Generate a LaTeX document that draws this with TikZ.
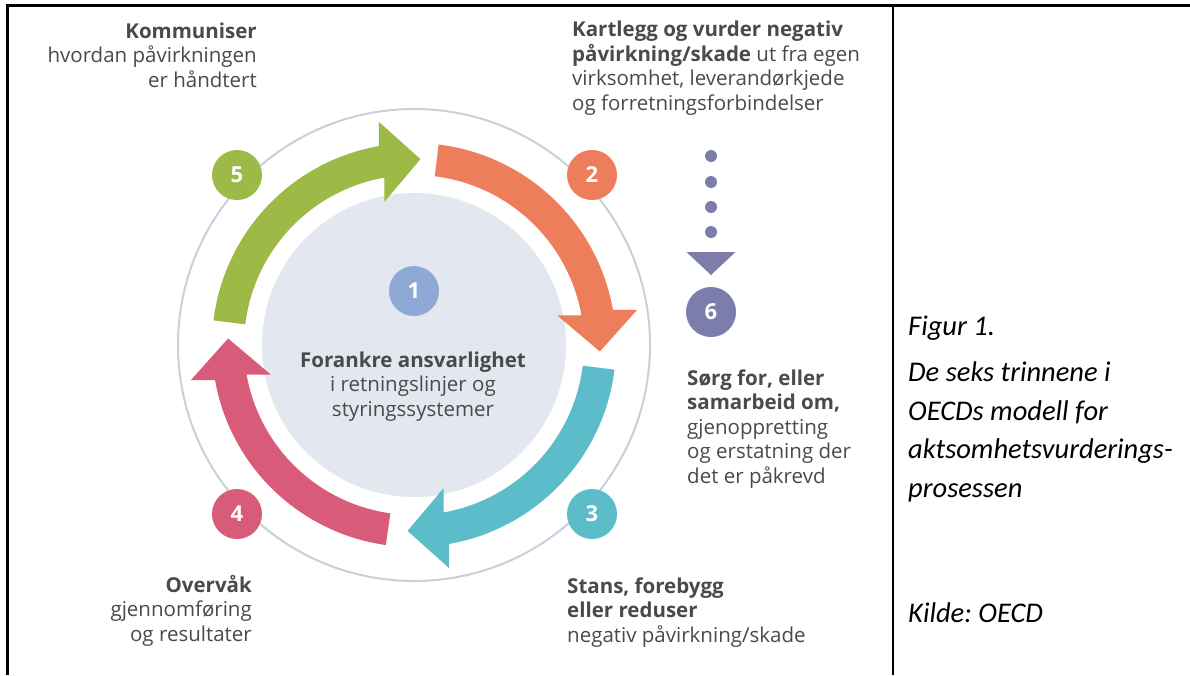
\documentclass[tikz,border=0pt]{standalone}
\usepackage{fontspec}
\setmainfont{Open Sans}
\newfontfamily\capfont{Carlito}
\usetikzlibrary{calc}
\definecolor{cgreen}{HTML}{9DB946}
\definecolor{corange}{HTML}{EE7D5B}
\definecolor{cteal}{HTML}{5CBCCA}
\definecolor{cpink}{HTML}{D95B7A}
\definecolor{cone}{HTML}{8EA9D6}
\definecolor{cpurple}{HTML}{7D7DAC}
\definecolor{cdisc}{HTML}{E3E7EF}
\definecolor{cring}{HTML}{C9CFDD}
\definecolor{textgray}{HTML}{4A4A4A}
\begin{document}
\begin{tikzpicture}[x=1pt,y=-1pt,
  txt/.style={font=\fontsize{20.5}{24.5}\selectfont, text=textgray, inner sep=0pt},
  captext/.style={font=\capfont\itshape\frenchspacing\fontsize{28.5}{38.5}\selectfont, text=black, inner sep=0pt, anchor=base west, align=left},
  num/.style={circle, minimum size=50pt, inner sep=0pt, text=white, font=\fontsize{22}{22}\selectfont\bfseries},
  border/.style={line width=2.5pt, black}]
\useasboundingbox (0,0) rectangle (1190,675);
\fill[white] (0,0) rectangle (1190,675);
% table borders
\draw[border] (1190,5.5) -- (7.5,5.5) -- (7.5,675);
\draw[border] (893,5.5) -- (893,675);
% rings
\draw[cring, line width=2pt] (414,345) circle[radius=236];
\fill[cdisc] (414,345) circle[radius=152];
% arrows
\begin{scope}[shift={(414,345)}, y=1pt]
\foreach \a/\b/\t/\c in {173/100/88/cgreen, 83/10/-2/corange, -7/-80/-92/cteal, -98/-170/-182/cpink}{
  \pgfmathsetmacro\m{(\b+\t)/2}
  \fill[\c] (\a:202) arc[start angle=\a, end angle=\b, radius=202]
    -- ($(\b:186)+(\m:40)$) -- (\t:186) -- ($(\b:186)-(\m:40)$)
    -- (\b:170) arc[start angle=\b, end angle=\a, radius=170] -- cycle;
}
\end{scope}
% number circles
\node[num, fill=cgreen] (n5) at (237,175) {5};
\node[num, fill=corange] (n2) at (592,175) {2};
\node[num, fill=cteal] (n3) at (592,514) {3};
\node[num, fill=cpink] (n4) at (237,514) {4};
\node[num, fill=cone] (n1) at (414,291) {1};
\node[num, fill=cpurple] (n6) at (711,312) {6};
% dotted arrow to 6
\foreach \y in {156,182,207,232}{\fill[cpurple] (711,\y) circle[radius=6];}
\coordinate (tri) at (711,275);
\fill[cpurple] (686.5,252) -- (735.5,252) -- (tri) -- cycle;
% texts (anchored at the baseline of the last line)
\node[txt, anchor=base east, align=right] (t5) at (257,87) {{\bfseries Kommuniser}\\hvordan påvirkningen\\er håndtert};
\node[txt, anchor=base west, align=left] (t2) at (572,110) {{\bfseries Kartlegg og vurder negativ}\\{\bfseries påvirkning/skade} ut fra egen\\virksomhet, leverandørkjede\\og forretningsforbindelser};
\node[txt, anchor=base, align=center] (t1) at (413,416) {{\bfseries Forankre ansvarlighet}\\i retningslinjer og\\styringssystemer};
\node[txt, anchor=base west, align=left] (t6) at (687,483) {{\bfseries Sørg for, eller}\\{\bfseries samarbeid om,}\\gjenoppretting\\og erstatning der\\det er påkrevd};
\node[txt, anchor=base east, align=right] (t4) at (252,641) {{\bfseries Overvåk}\\gjennomføring\\og resultater};
\node[txt, anchor=base west, align=left] (t3) at (567,642) {{\bfseries Stans, forebygg}\\{\bfseries eller reduser}\\negativ påvirkning/skade};
% caption
\node[captext] (c1) at (908,335) {Figur 1.};
\node[captext] (c2) at (908,497) {De seks trinnene i\\OECDs modell for\\aktsomhetsvurderings-\\prosessen};
\node[captext] (c3) at (908,622) {Kilde: OECD};
\end{tikzpicture}
\end{document}
